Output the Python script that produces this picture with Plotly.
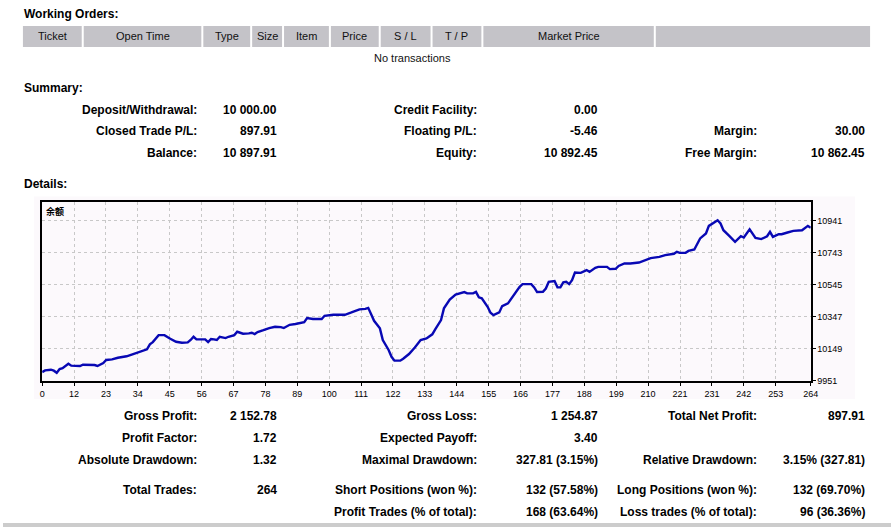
import plotly.graph_objects as go
import numpy as np

W, H = 891, 527          # reference picture size (layout coordinates)
FIG_W, FIG_H = 899, 532  # rendered figure size

# ---------------- data ----------------
trade_index = [0, 1, 3, 4, 5, 6, 7, 9, 10, 13, 14, 18, 19, 21, 22, 24, 26, 29, 31, 33,
               35, 36, 37, 38, 40, 42, 44, 46, 48, 50, 51, 52, 53, 56, 57, 58, 59, 60, 61, 63,
               64, 66, 67, 69, 71, 72, 73, 74, 76, 78, 80, 82, 83, 85, 87, 90, 91, 93, 96, 97,
               100, 104, 106, 108, 109, 111, 112, 113, 114, 116, 117, 119, 120, 121, 123, 124, 125, 126, 128, 129,
               130, 132, 134, 135, 137, 138, 140, 142, 145, 146, 148, 149, 150, 151, 153, 154, 155, 157, 158, 160,
               162, 164, 165, 168, 169, 170, 172, 173, 174, 176, 177, 178, 179, 180, 181, 182, 183, 185, 187, 188,
               190, 191, 194, 195, 197, 198, 200, 202, 205, 208, 209, 212, 214, 217, 218, 219, 221, 222, 224, 226,
               228, 229, 231, 232, 233, 234, 236, 237, 238, 240, 241, 243, 245, 247, 249, 250, 251, 253, 254, 256,
               258, 261, 262, 263, 264]
balance = [10003, 10014, 10018, 10012, 9999, 10022, 10028, 10055, 10043, 10041, 10049, 10047, 10041, 10059, 10078, 10082, 10092, 10101, 10113, 10125,
           10134, 10144, 10175, 10189, 10232, 10232, 10210, 10191, 10185, 10187, 10202, 10222, 10206, 10206, 10189, 10208, 10206, 10202, 10222, 10214,
           10222, 10232, 10253, 10241, 10243, 10247, 10239, 10251, 10263, 10276, 10284, 10282, 10276, 10296, 10301, 10313, 10338, 10332, 10332, 10352,
           10358, 10358, 10371, 10387, 10392, 10395, 10401, 10362, 10321, 10274, 10202, 10140, 10098, 10074, 10074, 10086, 10098, 10115, 10156, 10181,
           10202, 10212, 10237, 10268, 10325, 10398, 10453, 10484, 10499, 10491, 10491, 10500, 10466, 10460, 10408, 10371, 10356, 10373, 10412, 10429,
           10480, 10531, 10548, 10548, 10528, 10499, 10500, 10521, 10562, 10567, 10528, 10528, 10559, 10562, 10548, 10573, 10620, 10618, 10635, 10624,
           10649, 10655, 10655, 10641, 10643, 10661, 10676, 10676, 10682, 10701, 10709, 10717, 10728, 10736, 10748, 10742, 10742, 10754, 10763, 10831,
           10862, 10909, 10934, 10944, 10924, 10882, 10847, 10831, 10810, 10845, 10837, 10887, 10835, 10827, 10845, 10872, 10841, 10857, 10857, 10868,
           10878, 10882, 10893, 10909, 10898]

x_tick_labels = [0, 12, 23, 34, 45, 56, 67, 78, 89, 100, 111, 122, 133, 144, 155, 166, 177, 188,
                 199, 210, 221, 231, 242, 253, 264]
y_tick_values = [9951, 10149, 10347, 10545, 10743, 10941]

header_labels = ["Ticket", "Open Time", "Type", "Size", "Item", "Price", "S / L", "T / P", "Market Price", ""]

summary_labels_1 = ["Deposit/Withdrawal:", "Closed Trade P/L:", "Balance:"]
summary_values_1 = ["10 000.00", "897.91", "10 897.91"]
summary_labels_2 = ["Credit Facility:", "Floating P/L:", "Equity:"]
summary_values_2 = ["0.00", "-5.46", "10 892.45"]
summary_labels_3 = ["", "Margin:", "Free Margin:"]
summary_values_3 = ["", "30.00", "10 862.45"]

stats_labels_1 = ["Gross Profit:", "Profit Factor:", "Absolute Drawdown:", "Total Trades:", ""]
stats_values_1 = ["2 152.78", "1.72", "1.32", "264", ""]
stats_labels_2 = ["Gross Loss:", "Expected Payoff:", "Maximal Drawdown:", "Short Positions (won %):", "Profit Trades (% of total):"]
stats_values_2 = ["1 254.87", "3.40", "327.81 (3.15%)", "132 (57.58%)", "168 (63.64%)"]
stats_labels_3 = ["Total Net Profit:", "", "Relative Drawdown:", "Long Positions (won %):", "Loss trades (% of total):"]
stats_values_3 = ["897.91", "", "3.15% (327.81)", "132 (69.70%)", "96 (36.36%)"]

# ---------------- layout helpers ----------------
def px(x):
    return x / W

def py(y):
    return 1 - y / H

FONT = "Liberation Sans"
BOLD_SIZE = 12
annotations = []
shapes = []

def text(x, y, s, anchor="left", bold=False, size=BOLD_SIZE, color="#000000", family=FONT):
    if s == "":
        return
    annotations.append(dict(
        x=px(x), y=py(y), xref="paper", yref="paper", showarrow=False,
        text=f"<b>{s}</b>" if bold else s, xanchor=anchor, yanchor="middle",
        borderpad=0,
        font=dict(family=family, size=size, color=color)))

# Section titles
text(20, 14, "Working Orders:", bold=True)
text(20, 88, "Summary:", bold=True)
text(20, 184, "Details:", bold=True)

# Working orders header
header_edges = [20, 80, 200, 249, 281, 328, 378, 430, 481, 654, 870]
for i, lab in enumerate(header_labels):
    x0, x1 = header_edges[i], header_edges[i + 1]
    shapes.append(dict(type="rect", xref="paper", yref="paper",
                       x0=px(x0 + (1 if i > 0 else 0)), x1=px(x1 - (1 if i < len(header_labels) - 1 else 0)),
                       y0=py(47), y1=py(26), fillcolor="#C4C3C8", line=dict(width=0), layer="below"))
    text((x0 + x1) / 2, 36.5, lab, anchor="center", size=11, color="#111111")
text(411, 58, "No transactions", anchor="center", size=11, color="#111111")

# Summary block
rows_s = [110, 131, 153]
for i, r in enumerate(rows_s):
    text(196, r, summary_labels_1[i], anchor="right", bold=True)
    text(276, r, summary_values_1[i], anchor="right", bold=True)
    text(477, r, summary_labels_2[i], anchor="right", bold=True)
    text(598, r, summary_values_2[i], anchor="right", bold=True)
    text(758, r, summary_labels_3[i], anchor="right", bold=True)
    text(866, r, summary_values_3[i], anchor="right", bold=True)

# Stats block
rows_t = [416, 438, 460, 490, 511.5]
for i, r in enumerate(rows_t):
    text(196, r, stats_labels_1[i], anchor="right", bold=True)
    text(276, r, stats_values_1[i], anchor="right", bold=True)
    text(477, r, stats_labels_2[i], anchor="right", bold=True)
    text(598, r, stats_values_2[i], anchor="right", bold=True)
    text(758, r, stats_labels_3[i], anchor="right", bold=True)
    text(866, r, stats_values_3[i], anchor="right", bold=True)

# bottom grey bar
shapes.append(dict(type="rect", xref="paper", yref="paper", x0=0, x1=1, y0=0, y1=py(523),
                   fillcolor="#CCCCCC", line=dict(width=0), layer="below"))

# chart background (image area)
CHART_BG = "#FCF9FC"
shapes.append(dict(type="rect", xref="paper", yref="paper", x0=px(31), x1=px(855),
                   y0=py(399), y1=py(196.5), fillcolor=CHART_BG, line=dict(width=0), layer="below"))

# chart title inside plot
text(42, 211, "余额", size=9, family="Noto Sans CJK SC", bold=True)

# ---------------- chart ----------------
plot_left, plot_right, plot_top, plot_bottom = 39.3, 810.5, 202.3, 381
px_per_unit = (plot_right - plot_left) / 264.0
x_tick_pos = [k * 32 / px_per_unit for k in range(len(x_tick_labels) - 1)] + [264]

fig = go.Figure()
fig.add_trace(go.Scatter(x=trade_index, y=balance, mode="lines",
                         line=dict(color="#0808B4", width=2.4), hoverinfo="skip"))

fig.update_layout(
    width=FIG_W, height=FIG_H, margin=dict(l=0, r=0, t=0, b=0), autosize=False,
    paper_bgcolor="#FFFFFF", plot_bgcolor=CHART_BG,
    showlegend=False, annotations=annotations, shapes=shapes,
    xaxis=dict(domain=[px(plot_left), px(plot_right)], range=[0, 264],
               tickvals=x_tick_pos, ticktext=[str(v) for v in x_tick_labels],
               showgrid=True, gridcolor="#C8C8C8", griddash="3px,3px", gridwidth=1,
               zeroline=False, showline=True, linecolor="#000000", linewidth=1.5, mirror=True,
               ticks="outside", ticklen=3, tickcolor="#000000",
               tickfont=dict(family=FONT, size=9, color="#000000")),
    yaxis=dict(domain=[py(plot_bottom), py(plot_top)], range=[9948, 11055], side="right",
               tickvals=y_tick_values, ticktext=[str(v) for v in y_tick_values],
               showgrid=True, gridcolor="#C8C8C8", griddash="3px,3px", gridwidth=1,
               zeroline=False, showline=True, linecolor="#000000", linewidth=1.5, mirror=True,
               ticks="outside", ticklen=3, tickcolor="#000000",
               tickfont=dict(family=FONT, size=9, color="#000000")),
)

page_css = ("var s=document.createElement('style');"
            "s.textContent='html,body{margin:0!important;padding:0!important;overflow:hidden!important;}';"
            "document.head.appendChild(s);")
fig.write_html("out.html", config={"displayModeBar": False}, post_script=page_css)
